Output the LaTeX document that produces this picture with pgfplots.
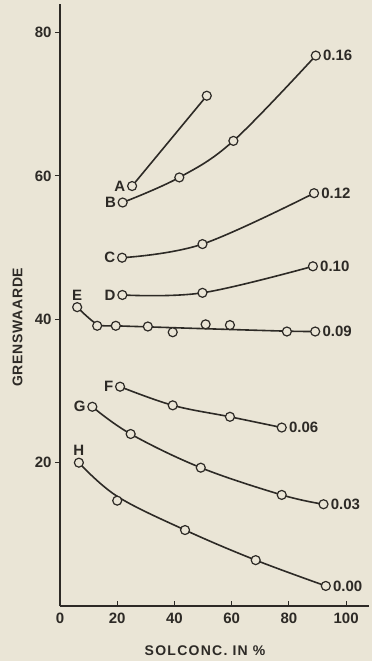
\documentclass[border=0pt]{standalone}
\usepackage{fontspec}
\setmainfont{Liberation Sans}
\newfontfamily\xlabfont[LetterSpace=9]{Liberation Sans}
\newfontfamily\ylabfont[LetterSpace=5]{Liberation Sans}
\usepackage{pgfplots}
\pgfplotsset{compat=1.18}
\usetikzlibrary{backgrounds,calc}
\definecolor{bgcol}{RGB}{234,229,214}
\definecolor{ink}{RGB}{45,42,38}
\tikzset{lbl/.style={font=\fontsize{15}{17}\selectfont\bfseries, text=ink, inner sep=1pt},
  ll/.style={lbl,left,xshift=-5pt}, rl/.style={lbl,right,xshift=5.5pt}}
\pgfplotsset{mk/.style={only marks, mark=*, mark size=4.5pt, mark options={fill=bgcol, draw=ink, line width=1.2pt}}}
\begin{document}
\begin{tikzpicture}[x=1pt,y=1pt]
\begin{axis}[name=ax,
  scale only axis, width=309pt, height=602pt,
  xmin=0, xmax=108, ymin=0, ymax=84,
  axis lines=left, axis line style={ink, line width=1.8pt, -},
  xtick={0,20,40,60,80,100}, ytick={20,40,60,80},
  xtick align=inside, ytick align=outside,
  major tick length=5pt,
  tick style={ink, line width=1pt},
  ticklabel style={font=\fontsize{15}{17}\selectfont\bfseries, text=ink},
  xticklabel style={yshift=-3pt},
  /pgf/number format/assume math mode=true,
  xlabel={SOLCONC. IN \%}, ylabel={GRENSWAARDE},
  xlabel style={font=\xlabfont\fontsize{14}{16}\selectfont\bfseries, text=ink, at={(axis cs:50.7,0)}, anchor=north, yshift=-36pt},
  ylabel style={font=\ylabfont\fontsize{14}{16}\selectfont\bfseries, text=ink, at={(axis cs:0,38.9)}, anchor=south, yshift=34pt},
  clip=false,
  every axis plot/.append style={ink, line width=1.6pt},
]
% A
\addplot[smooth] coordinates {(25.2,58.6) (51.3,71.2)} node[pos=0,ll]{A};
% B
\addplot[smooth,tension=0.6] coordinates {(21.9,56.3) (41.7,59.8) (60.6,64.9) (89.4,76.8)}
  node[pos=0,ll]{B} node[pos=1,rl]{0.16};
% C
\addplot[smooth,tension=0.6] coordinates {(21.7,48.6) (49.8,50.5) (88.8,57.6)}
  node[pos=0,ll]{C} node[pos=1,rl]{0.12};
% D
\addplot[smooth,tension=0.6] coordinates {(21.8,43.4) (49.8,43.7) (88.4,47.4)}
  node[pos=0,ll]{D} node[pos=1,rl]{0.10};
% E fitted line
\addplot[smooth,tension=0.5] coordinates {(6.0,41.7) (13.0,39.3) (19.5,39.1) (30.7,38.95) (50,38.7) (79.3,38.35) (89.2,38.3)}
  node[pos=1,rl]{0.09};
% F
\addplot[smooth,tension=0.6] coordinates {(21.0,30.6) (39.4,28.0) (59.4,26.4) (77.5,24.9)}
  node[pos=0,ll]{F} node[pos=1,rl]{0.06};
% G
\addplot[smooth,tension=0.6] coordinates {(11.3,27.8) (24.7,24.0) (49.2,19.3) (77.5,15.5) (92.1,14.2)}
  node[pos=0,ll]{G} node[pos=1,rl]{0.03};
% H
\addplot[smooth,tension=0.6] coordinates {(6.6,20.0) (20.0,15.3) (43.7,10.6) (68.4,6.4) (92.9,2.8)}
  node[pos=0,lbl,above,yshift=5pt]{H} node[pos=1,rl]{0.00};
% marks
\addplot[mk] coordinates {(25.2,58.6) (51.3,71.2)};
\addplot[mk] coordinates {(21.9,56.3) (41.7,59.8) (60.6,64.9) (89.4,76.8)};
\addplot[mk] coordinates {(21.7,48.6) (49.8,50.5) (88.8,57.6)};
\addplot[mk] coordinates {(21.8,43.4) (49.8,43.7) (88.4,47.4)};
\addplot[mk] coordinates {(6.0,41.7) (13.0,39.1) (19.5,39.1) (30.7,39.0) (39.4,38.2) (50.9,39.3) (59.4,39.2) (79.3,38.3) (89.2,38.3)}
  node[pos=0,lbl,above,yshift=5pt]{E};
\addplot[mk] coordinates {(21.0,30.6) (39.4,28.0) (59.4,26.4) (77.5,24.9)};
\addplot[mk] coordinates {(11.3,27.8) (24.7,24.0) (49.2,19.3) (77.5,15.5) (92.1,14.2)};
\addplot[mk] coordinates {(6.6,20.0) (20.0,14.7) (43.7,10.6) (68.4,6.4) (92.9,2.8)};
\end{axis}
\begin{scope}[on background layer]
\fill[bgcol] ($(ax.south west)+(-60pt,-55pt)$) rectangle ++(372pt,661pt);
\end{scope}
\pgfresetboundingbox
\path ($(ax.south west)+(-60pt,-55pt)$) rectangle ++(372pt,661pt);
\end{tikzpicture}
\end{document}
